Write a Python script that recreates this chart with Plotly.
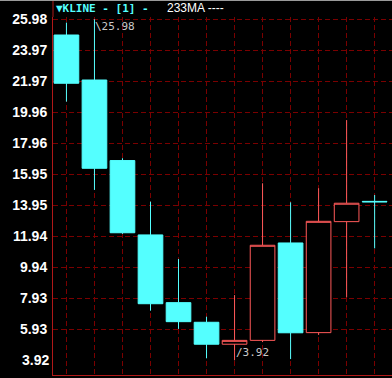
import plotly.graph_objects as go

# ---- data ----
periods = list(range(12))
open_ = [24.96, 22.05, 16.84, 12.03, 7.65, 6.38, 4.96, 5.21, 11.51, 5.71, 12.89, 14.20]
high = [25.76, 25.98, 16.99, 14.18, 10.47, 6.74, 8.14, 15.37, 14.14, 15.05, 19.46, 14.61]
low = [20.65, 14.94, 12.10, 7.13, 5.95, 4.05, 3.92, 5.10, 4.00, 5.56, 8.00, 11.16]
close = [21.84, 16.34, 12.17, 7.58, 6.42, 4.96, 5.21, 11.36, 5.70, 12.91, 14.08, 14.17]
tick_labels = ["3.92", "5.93", "7.93", "9.94", "11.94", "13.95", "15.95",
               "17.96", "19.96", "21.97", "23.97", "25.98"]
tick_values = [float(t) for t in tick_labels]

CYAN = "#54FFFF"
RED = "#FF5A5A"
GRID = "#7A0000"
AXIS = "#B01818"
TICKFONT = dict(family="Liberation Sans", size=14, color="#FFFFFF", weight="bold")

fig = go.Figure()
fig.add_trace(go.Candlestick(
    x=periods, open=open_, high=high, low=low, close=close,
    increasing=dict(line=dict(color=RED, width=1), fillcolor="#000000"),
    decreasing=dict(line=dict(color=CYAN, width=1), fillcolor=CYAN),
    whiskerwidth=0, hoverinfo="skip", showlegend=False,
))

# high / low markers
i_hi = high.index(max(high))
i_lo = low.index(min(low))
fig.add_annotation(x=periods[i_hi], y=high[i_hi], text="\\" + f"{high[i_hi]:.2f}",
                   xanchor="left", yanchor="top", showarrow=False, xshift=-1, yshift=1,
                   font=dict(family="DejaVu Sans Mono", size=11, color="#C8C8C8"))
fig.add_annotation(x=periods[i_lo], y=low[i_lo], text="/" + f"{low[i_lo]:.2f}",
                   xanchor="left", yanchor="bottom", showarrow=False, xshift=-1, yshift=-1,
                   font=dict(family="DejaVu Sans Mono", size=11, color="#C8C8C8"))

# lowest tick label (no gridline at that level)
fig.add_annotation(xref="paper", x=0, y=tick_values[0], text=tick_labels[0],
                   xanchor="right", yanchor="middle", showarrow=False, xshift=-2,
                   font=TICKFONT)

# title
fig.add_annotation(xref="paper", yref="paper", x=0, y=1, xshift=1, yshift=9,
                   xanchor="left", yanchor="middle", showarrow=False,
                   text="<b>▼KLINE - [1] -</b>",
                   font=dict(family="DejaVu Sans Mono", size=11, color=CYAN))
fig.add_annotation(xref="paper", yref="paper", x=(165 - 53) / 339, y=1, yshift=9,
                   xanchor="left", yanchor="middle", showarrow=False,
                   text="233MA ----",
                   font=dict(family="Liberation Sans", size=12, color="#FFFFFF"))

# axis line extension and top border
fig.add_shape(type="line", xref="paper", yref="paper", x0=0, x1=0, y0=1, y1=1 + 17 / 358,
              line=dict(color=AXIS, width=1))
fig.add_shape(type="line", xref="paper", yref="paper", x0=-53 / 339, x1=1,
              y0=1 + 16.5 / 358, y1=1 + 16.5 / 358, line=dict(color="#9A9A9A", width=1))

fig.update_layout(
    width=392, height=378,
    margin=dict(l=53, r=0, t=17, b=3),
    paper_bgcolor="#000000", plot_bgcolor="#000000",
    boxgap=0.12, boxgroupgap=0,
    xaxis=dict(range=[-0.48, 11.62], tickvals=periods, showticklabels=False,
               showgrid=True, gridcolor=GRID, gridwidth=1, griddash="5px,3px",
               zeroline=False, showline=True, linecolor=AXIS, linewidth=1,
               ticks="", rangeslider=dict(visible=False), fixedrange=True),
    yaxis=dict(range=[2.97, 26.125], tickvals=tick_values[1:], ticktext=tick_labels[1:],
               showgrid=True, gridcolor=GRID, gridwidth=1, griddash="5px,3px",
               zeroline=False, showline=True, linecolor=AXIS, linewidth=1,
               ticks="", ticklabelstandoff=2,
               tickfont=TICKFONT,
               fixedrange=True),
)

fig.write_html("out.html", config={"displayModeBar": False})
